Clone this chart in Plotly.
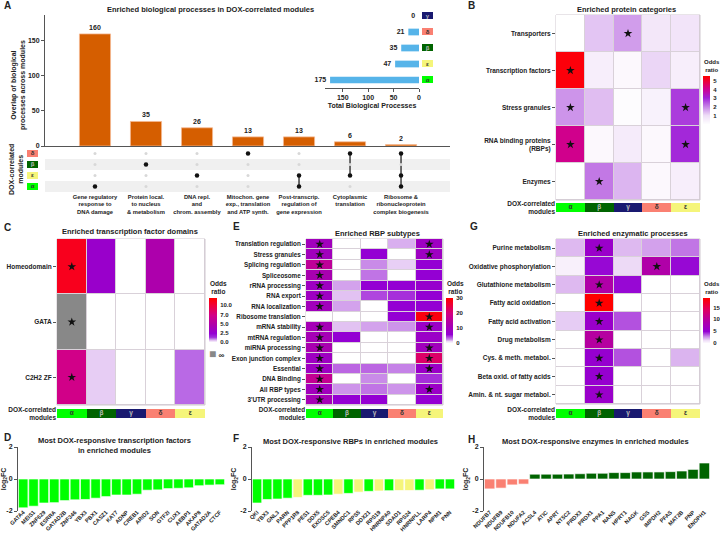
import numpy as np
import plotly.graph_objects as go

W, H = 720, 540
FONT = "Liberation Sans"
DARK = "#222222"
AXC = "#555555"


def X(px):
    return px / W


def Y(py):
    return 1 - py / H


def dx(a, b):
    return [X(a), X(b)]


def dy(top, bottom):
    return [Y(bottom), Y(top)]


def F(size, color=DARK):
    return dict(family=FONT, size=size, color=color, weight="bold")


# ------------------------------------------------------------------ data
modules = ["α", "β", "γ", "δ", "ε"]
module_colors = ["#00FF00", "#006400", "#191970", "#FA8072", "#F5F57A"]
module_text_colors = ["#333333", "#BBBBBB", "#BBBBBB", "#333333", "#333333"]

# Panel A
bp_labels = [
    "Gene regulatory<br>response to<br>DNA damage",
    "Protein local.<br>to nucleus<br>& metabolism",
    "DNA repl.<br>and<br>chrom. assembly",
    "Mitochon. gene<br>exp., translation<br>and ATP synth.",
    "Post-transcrip.<br>regulation of<br>gene expression",
    "Cytoplasmic<br>translation",
    "Ribosome &<br>ribonucleoprotein<br>complex biogenesis",
]
bp_counts = [160, 35, 26, 13, 13, 6, 2]
bp_members = [["α"], ["β"], ["ε"], ["δ"], ["ε", "α"], ["δ", "ε"], ["δ", "ε", "α"]]
matrix_rows = ["δ", "β", "ε", "α"]
total_rows = ["γ", "δ", "β", "ε", "α"]
total_bp = [0, 21, 35, 47, 175]

# Panel B
prot_categories = ["Transporters", "Transcription factors", "Stress granules",
                   "RNA binding proteins<br>(RBPs)", "Enzymes"]
prot_or = [
    [0.0, 1.3, 1.8, 0.7, 0.8],
    [5.5, 0.5, 0.2, 1.1, 0.5],
    [1.9, 1.4, 0.1, 0.4, 2.8],
    [4.2, 0.2, 0.6, 0.2, 3.0],
    [0.0, 2.2, 1.5, 0.2, 0.5],
]
prot_sig = [
    [0, 0, 1, 0, 0],
    [1, 0, 0, 0, 0],
    [1, 0, 0, 0, 1],
    [1, 0, 0, 0, 1],
    [0, 1, 0, 0, 0],
]
prot_ticks = [1, 2, 3, 4, 5]
prot_max = 5.6

# Panel C
tf_domains = ["Homeodomain", "GATA", "C2H2 ZF"]
tf_or = [
    [12.0, 3.0, 0.0, 4.8, 0.0],
    [np.inf, 0.0, 0.0, 0.0, 0.0],
    [7.0, 0.5, 0.0, 0.0, 1.1],
]
tf_sig = [
    [1, 0, 0, 0, 0],
    [1, 0, 0, 0, 0],
    [1, 0, 0, 0, 0],
]
tf_scale_ticks = [0.0, 2.5, 5.0, 7.0, 10.0, 15.0]
tf_tick_labels = ["0.0", "2.5", "5.0", "7.0", "10.0"]
tf_max_pos = 4.8

# Panel E
rbp_types = ["Translation regulation", "Stress granules", "Splicing regulation",
             "Spliceosome", "rRNA processing", "RNA export", "RNA localization",
             "Ribosome translation", "mRNA stability", "mtRNA regulation",
             "miRNA processing", "Exon junction complex", "Essential",
             "DNA Binding", "All RBP types", "3'UTR processing"]
rbp_or = [
    [10, 0, 0, 2.2, 9],
    [10, 0, 6, 0, 9],
    [16, 0, 3, 1.5, 6],
    [12, 0, 3.5, 0, 6],
    [9, 2.5, 6, 6, 7],
    [9, 1.8, 4.5, 5, 6],
    [10, 2.5, 0, 6, 6],
    [0, 0, 0, 6, 29],
    [11, 1.8, 2.5, 2.8, 8],
    [11, 6, 0, 0, 8],
    [12, 0, 0, 0, 10],
    [9, 0, 0, 0, 22],
    [9, 3.8, 3.8, 3.2, 8],
    [17, 0, 3, 0, 5],
    [10, 2.8, 3.5, 2.8, 8],
    [11, 6, 6, 0, 6],
]
rbp_sig = [
    [1, 0, 0, 0, 1],
    [1, 0, 0, 0, 1],
    [1, 0, 0, 0, 0],
    [1, 0, 0, 0, 0],
    [1, 0, 0, 0, 0],
    [1, 0, 0, 0, 0],
    [1, 0, 0, 0, 0],
    [0, 0, 0, 0, 1],
    [1, 0, 0, 0, 1],
    [1, 0, 0, 0, 0],
    [1, 0, 0, 0, 1],
    [1, 0, 0, 0, 1],
    [1, 0, 0, 0, 1],
    [1, 0, 0, 0, 0],
    [1, 0, 0, 0, 1],
    [1, 0, 0, 0, 0],
]
rbp_ticks = [0, 10, 20, 30]
rbp_max = 30

# Panel G
enz_processes = ["Purine metabolism", "Oxidative phosphorylation",
                 "Glutathione metabolism", "Fatty acid oxidation",
                 "Fatty acid activation", "Drug metabolism",
                 "Cys. & meth. metabol.", "Beta oxid. of fatty acids",
                 "Amin. & nt. sugar metabol."]
enz_or = [
    [1.9, 6, 1.9, 2.4, 3.2],
    [0.5, 5, 1.2, 9.5, 5],
    [1.9, 9.5, 5, 0, 0],
    [0, 19, 0, 0, 0],
    [1.5, 6, 3.8, 0, 0],
    [0, 10, 0, 0, 0],
    [0, 5.5, 3.8, 0, 2.0],
    [0, 5.5, 0, 0, 0],
    [0, 6, 0, 0, 0],
]
enz_sig = [
    [0, 1, 0, 0, 0],
    [0, 0, 0, 1, 0],
    [0, 1, 0, 0, 0],
    [0, 1, 0, 0, 0],
    [0, 1, 0, 0, 0],
    [0, 1, 0, 0, 0],
    [0, 1, 0, 0, 0],
    [0, 1, 0, 0, 0],
    [0, 1, 0, 0, 0],
]
enz_ticks = [0, 5, 10, 15]
enz_max = 19

# Panels D, F, H
tf_genes = ["GATA4", "MEIS1", "ZNF629", "ESRRA", "GATAD2B", "ZNF346", "YBX3", "PBX1",
            "CASZ1", "KAT7", "ADNP", "CREB1", "ARID2", "SON", "GTF2I", "CUX1",
            "AEBP1", "AKAP8", "GATAD2A", "CTCF"]
tf_fc = [-1.8, -1.7, -1.5, -1.48, -1.35, -1.3, -1.28, -1.2, -1.1, -1.0, -1.0, -0.95,
         -0.7, -0.68, -0.6, -0.58, -0.55, -0.42, -0.38, -0.36]
tf_module = ["α"] * 20

rbp_genes = ["QKI", "YBX3", "GNL3", "PARN", "PPP1R8", "PES1", "DDX5", "EXOSC5", "CPEB4",
             "SMNDC1", "RPS5", "DDX21", "RPS19", "HNRNPA0", "SDAD1", "RPS24",
             "HNRNPLL", "LARP4", "NPM1", "PNN"]
rbp_fc = [-1.5, -1.28, -1.25, -1.2, -1.15, -1.02, -1.02, -1.0, -0.95, -0.9, -0.82,
          -0.77, -0.75, -0.73, -0.72, -0.72, -0.7, -0.67, -0.62, -0.62]
rbp_module = ["α", "α", "α", "α", "ε", "α", "α", "α", "ε", "α", "ε", "α", "ε", "α",
              "ε", "ε", "α", "ε", "α", "α"]

enz_genes = ["NDUFB7", "NDUFB9", "NDUFB10", "NDUFA2", "ACSL4", "ATIC", "APRT", "NT5C2",
             "PRDX3", "PRDX1", "PPA1", "NANS", "HPRT1", "NAGK", "GSS", "IMPDH2", "PFAS",
             "MAT2B", "PNP", "ENOPH1"]
enz_fc = [-0.62, -0.57, -0.37, -0.32, 0.3, 0.3, 0.3, 0.31, 0.33, 0.36, 0.36, 0.4, 0.4,
          0.44, 0.44, 0.44, 0.46, 0.5, 0.6, 1.0]
enz_module = ["δ"] * 4 + ["β"] * 16

# ------------------------------------------------------------------ figure
module_scale = [[i / 4, c] for i, c in enumerate(module_colors)]
mod_idx = {m: i for i, m in enumerate(modules)}
mod_col = dict(zip(modules, module_colors))

fig = go.Figure()
layout = dict(
    template="none",
    width=W, height=H, autosize=False,
    margin=dict(l=0, r=0, t=0, b=0, pad=0, autoexpand=False),
    paper_bgcolor="white", plot_bgcolor="rgba(0,0,0,0)",
    showlegend=False,
    font=F(7),
    shapes=[], annotations=[],
)


def axis(domain, **kw):
    d = dict(domain=domain, showgrid=False, zeroline=False, showline=False,
             ticks="", showticklabels=False, fixedrange=True, automargin=False)
    d.update(kw)
    return d


def annot(x, y, text, size=7, xanchor="center", yanchor="middle", angle=0):
    layout["annotations"].append(dict(
        x=X(x), y=Y(y), xref="paper", yref="paper", text=text, showarrow=False,
        xanchor=xanchor, yanchor=yanchor, textangle=angle, font=F(size)))


# ---------------- Panel A: bars
layout["xaxis"] = axis(dx(45, 450), anchor="y", range=[-0.98, 6.96],
                       showline=True, linecolor=AXC, linewidth=1)
layout["yaxis"] = axis(dy(15, 146), anchor="x", range=[0, 187], showline=True,
                       linecolor=AXC, linewidth=1, ticks="outside", ticklen=3,
                       tickcolor=AXC, showticklabels=True, tickvals=[0, 50, 100, 150],
                       tickfont=F(7))
fig.add_trace(go.Bar(
    x=list(range(len(bp_counts))), y=bp_counts, xaxis="x", yaxis="y", width=0.61,
    marker=dict(color="#D55E00", line=dict(color="#F5B890", width=0.8)),
    text=bp_counts, textposition="outside", textfont=F(7), cliponaxis=False,
    hoverinfo="skip"))

# matrix
layout["xaxis2"] = axis(dx(45, 450), anchor="y2", range=[-0.98, 6.96],
                        showticklabels=True, tickvals=list(range(len(bp_labels))),
                        ticktext=bp_labels, tickfont=F(5.8), tickangle=0)
layout["yaxis2"] = axis(dy(148, 192), anchor="x2", range=[3.5, -0.5])
for ri, m in enumerate(matrix_rows):
    if ri % 2 == 1:
        layout["shapes"].append(dict(
            type="rect", xref="x2 domain", yref="y2", x0=0, x1=1,
            y0=ri - 0.5, y1=ri + 0.5, fillcolor="#F0F0F0", line=dict(width=0),
            layer="below"))
gx, gy, bx, by = [], [], [], []
for ci, mem in enumerate(bp_members):
    rows_on = [matrix_rows.index(m) for m in mem]
    for ri in range(len(matrix_rows)):
        if ri in rows_on:
            bx.append(ci)
            by.append(ri)
        else:
            gx.append(ci)
            gy.append(ri)
    if len(rows_on) > 1:
        fig.add_trace(go.Scatter(
            x=[ci, ci], y=[min(rows_on), max(rows_on)], xaxis="x2", yaxis="y2",
            mode="lines", line=dict(color="#111111", width=1.2), hoverinfo="skip"))
fig.add_trace(go.Scatter(x=gx, y=gy, xaxis="x2", yaxis="y2", mode="markers",
                         marker=dict(color="#D8D8D8", size=3), hoverinfo="skip"))
fig.add_trace(go.Scatter(x=bx, y=by, xaxis="x2", yaxis="y2", mode="markers",
                         marker=dict(color="#111111", size=4.5), hoverinfo="skip"))

# matrix row module boxes
layout["xaxis3"] = axis(dx(27, 38), anchor="y2", range=[-0.5, 0.5])
fig.add_trace(go.Heatmap(
    z=[[mod_idx[m]] for m in matrix_rows], x=[0], y=list(range(len(matrix_rows))),
    xaxis="x3", yaxis="y2", colorscale=module_scale, zmin=0, zmax=4,
    showscale=False, ygap=4, hoverinfo="skip"))
fig.add_trace(go.Scatter(
    x=[0] * len(matrix_rows), y=list(range(len(matrix_rows))), xaxis="x3", yaxis="y2",
    mode="text", text=matrix_rows,
    textfont=dict(family=FONT, size=6, weight="bold",
                  color=[module_text_colors[mod_idx[m]] for m in matrix_rows]),
    hoverinfo="skip"))

# inset total bars
layout["xaxis4"] = axis(dx(325, 419), anchor="y4", range=[185, 0], showline=True,
                        linecolor=AXC, linewidth=1, ticks="outside", ticklen=3,
                        tickcolor=AXC, showticklabels=True, tickvals=[0, 50, 100, 150],
                        tickfont=F(7),
                        title=dict(text="Total Biological Processes", font=F(7),
                                   standoff=2))
layout["yaxis4"] = axis(dy(8, 88), anchor="x4", range=[4.5, -0.5])
fig.add_trace(go.Bar(
    x=total_bp, y=list(range(len(total_rows))), orientation="h", xaxis="x4",
    yaxis="y4", width=0.42, marker=dict(color="#56B4E9", line=dict(width=0)),
    hoverinfo="skip"))
fig.add_trace(go.Scatter(
    x=total_bp, y=list(range(len(total_rows))), xaxis="x4", yaxis="y4",
    mode="text", text=[f"{v}  " for v in total_bp], textposition="middle left",
    textfont=F(7), cliponaxis=False, hoverinfo="skip"))
layout["xaxis5"] = axis(dx(422, 433), anchor="y4", range=[-0.5, 0.5])
fig.add_trace(go.Heatmap(
    z=[[mod_idx[m]] for m in total_rows], x=[0], y=list(range(len(total_rows))),
    xaxis="x5", yaxis="y4", colorscale=module_scale, zmin=0, zmax=4,
    showscale=False, ygap=9, hoverinfo="skip"))
fig.add_trace(go.Scatter(
    x=[0] * len(total_rows), y=list(range(len(total_rows))), xaxis="x5", yaxis="y4",
    mode="text", text=total_rows,
    textfont=dict(family=FONT, size=6, weight="bold",
                  color=[module_text_colors[mod_idx[m]] for m in total_rows]),
    hoverinfo="skip"))

annot(210, 9, "Enriched biological processes in DOX-correlated modules", 7.5)
annot(18, 85, "Overlap of biological<br>processes across modules", 7, angle=-90)
annot(16, 170, "DOX-correlated<br>modules", 7, angle=-90)


# ---------------- heatmap panels
def heat_panel(nh, ns, xdom, ytop, ybot, stop, sbot, rows, z, sig, cscale, zmin, zmax,
               label_size=6.5):
    xr, yr, ysr = f"x{nh}", f"y{nh}", f"y{ns}"
    layout[f"xaxis{nh}"] = axis(dx(*xdom), anchor=yr, range=[-0.5, 4.5])
    layout[f"yaxis{nh}"] = axis(
        dy(ytop, ybot), anchor=xr, range=[len(rows) - 0.5, -0.5],
        showticklabels=True, ticks="outside", ticklen=3, tickcolor=AXC,
        tickvals=list(range(len(rows))), ticktext=rows, tickfont=F(label_size))
    layout[f"yaxis{ns}"] = axis(
        dy(stop, sbot), anchor=xr, range=[-0.5, 0.5], showticklabels=True,
        tickvals=[0], ticktext=["DOX-correlated<br>modules"], tickfont=F(label_size))
    layout["shapes"].append(dict(
        type="rect", xref=f"{xr} domain", yref=f"{yr} domain", x0=0, x1=1, y0=0, y1=1,
        fillcolor="#D9D1D9", line=dict(color="#D0C8D0", width=1), layer="below"))
    fig.add_trace(go.Heatmap(
        z=z, x=list(range(5)), y=list(range(len(rows))), xaxis=xr, yaxis=yr,
        colorscale=cscale, zmin=zmin, zmax=zmax, xgap=1, ygap=1, showscale=False,
        hoverinfo="skip"))
    fig.add_trace(go.Heatmap(
        z=[list(range(5))], x=list(range(5)), y=[0], xaxis=xr, yaxis=ysr,
        colorscale=module_scale, zmin=0, zmax=4, showscale=False, hoverinfo="skip"))
    fig.add_trace(go.Scatter(
        x=list(range(5)), y=[0] * 5, xaxis=xr, yaxis=ysr, mode="text", text=modules,
        textfont=dict(family=FONT, size=6.5, weight="bold", color=module_text_colors),
        hoverinfo="skip"))


def color_key(n, x_left, thick, bar_top, bar_bot, cscale, zmin, zmax, key_vals,
              tickvals, ticktext=None, title_size=6.5):
    """Colour key drawn as a smoothed one-column heatmap with a right-hand axis."""
    layout[f"xaxis{n}"] = axis(dx(x_left, x_left + thick), anchor=f"y{n}",
                               range=[-0.5, 0.5])
    ya = axis(dy(bar_top, bar_bot), anchor=f"x{n}", side="right", range=[zmin, zmax],
              showticklabels=True, tickvals=tickvals, tickfont=F(6), ticks="outside",
              ticklen=1, tickcolor="rgba(0,0,0,0)")
    if ticktext is not None:
        ya["ticktext"] = ticktext
    layout[f"yaxis{n}"] = ya
    fig.add_trace(go.Heatmap(
        z=[[v] for v in key_vals], x=[0], y=key_vals, xaxis=f"x{n}", yaxis=f"y{n}",
        colorscale=cscale, zmin=zmin, zmax=zmax, zsmooth="best", showscale=False,
        hoverinfo="skip"))
    annot(x_left - 1, bar_top - 1, "Odds<br>ratio", title_size, xanchor="left",
          yanchor="bottom")


def add_stars(xr, yr, sig):
    sx = [c for r, row in enumerate(sig) for c, s in enumerate(row) if s]
    sy = [r for r, row in enumerate(sig) for c, s in enumerate(row) if s]
    fig.add_trace(go.Scatter(
        x=sx, y=sy, xaxis=xr, yaxis=yr, mode="markers",
        marker=dict(symbol="star", size=6.5, color="#111111", line=dict(width=0)),
        hoverinfo="skip"))


# B
B_scale = [[0, "#FFFFFF"], [0.18, "#EEDDF7"], [0.36, "#C98BE8"], [0.55, "#A020D8"],
           [0.75, "#D0008C"], [1, "#FF0000"]]
heat_panel(6, 7, (556, 700), 15, 200, 203, 212, prot_categories, prot_or, prot_sig,
           B_scale, 0, prot_max)
add_stars("x6", "y6", prot_sig)
color_key(20, 703, 7, 76, 124, B_scale, 0, prot_max, [0] + prot_ticks + [prot_max],
          prot_ticks, title_size=6)
annot(626, 9, "Enriched protein categories", 7.5)

# C with non-linear colour axis
tf_arr = np.array(tf_or, dtype=float)
tf_inf = np.isinf(tf_arr)
tf_pos = list(range(len(tf_scale_ticks)))
tf_t = np.interp(np.where(tf_inf, 0, tf_arr), tf_scale_ticks, tf_pos)
tf_t = np.where(tf_inf, np.nan, tf_t)
C_scale = [[0, "#FFFFFF"], [0.04, "#E8D0F4"], [0.12, "#A030DC"], [0.21, "#9400D3"],
           [0.42, "#B000A8"], [0.62, "#D0008A"], [0.83, "#F0003C"], [1, "#FF0000"]]
heat_panel(8, 9, (57, 205), 239, 405, 409, 418, tf_domains, tf_t.tolist(), tf_sig,
           C_scale, 0, tf_max_pos)
inf_z = np.where(tf_inf, 1.0, np.nan)
fig.add_trace(go.Heatmap(
    z=inf_z.tolist(), x=list(range(5)), y=list(range(len(tf_domains))), xaxis="x8",
    yaxis="y8", colorscale=[[0, "#888888"], [1, "#888888"]], showscale=False,
    xgap=1, ygap=1, hoverinfo="skip"))
add_stars("x8", "y8", tf_sig)
color_key(21, 209, 8, 298, 342, C_scale, 0, tf_max_pos,
          tf_pos[:len(tf_tick_labels)] + [tf_max_pos], tf_pos[:len(tf_tick_labels)],
          tf_tick_labels)
annot(130, 232, "Enriched transcription factor domains", 7.5)
layout["annotations"].append(dict(
    x=X(207), y=Y(354), xref="paper", yref="paper",
    text='<span style="color:#888888;font-size:12px">■</span> ∞', showarrow=False,
    xanchor="left", yanchor="middle", font=F(8)))

# E
E_scale = [[0, "#FFFFFF"], [0.04, "#EEDDF7"], [0.1, "#C98BE8"], [0.2, "#9400D3"],
           [0.4, "#A800B0"], [0.67, "#D4007F"], [1, "#FF0000"]]
heat_panel(10, 11, (306, 443), 239, 405, 409, 418, rbp_types, rbp_or, rbp_sig,
           E_scale, 0, rbp_max, label_size=6.3)
add_stars("x10", "y10", rbp_sig)
color_key(22, 446, 7, 298, 343, E_scale, 0, rbp_max,
          [0, 1.2, 3, 6, 12, 20, 30], rbp_ticks)
annot(377, 233, "Enriched RBP subtypes", 7.5)

# G
G_scale = [[0, "#FFFFFF"], [0.06, "#EEDDF7"], [0.15, "#C98BE8"], [0.27, "#9400D3"],
           [0.5, "#B000A8"], [0.75, "#E00060"], [1, "#FF0000"]]
heat_panel(12, 13, (556, 700), 239, 404, 409, 418, enz_processes, enz_or, enz_sig,
           G_scale, 0, enz_max)
add_stars("x12", "y12", enz_sig)
color_key(23, 703, 7, 298, 343, G_scale, 0, enz_max,
          [0, 1.1, 2.9, 5.1, 9.5, 14.3, 19], enz_ticks, title_size=6)
annot(633, 233, "Enriched enzymatic processes", 7.5)


# ---------------- log2FC bar panels
def fc_panel(n, xdom, genes, fc, mods):
    layout[f"xaxis{n}"] = axis(dx(*xdom), anchor=f"y{n}", range=[-0.5, len(genes) - 0.5],
                               showticklabels=True, tickvals=list(range(len(genes))),
                               ticktext=genes, tickangle=-45, tickfont=F(5.6),
                               ticklabelstandoff=-4)
    layout[f"yaxis{n}"] = axis(dy(447, 511), anchor=f"x{n}", range=[-2, 2],
                               showline=True, linecolor=AXC, linewidth=1,
                               ticks="outside", ticklen=3, tickcolor=AXC,
                               showticklabels=True, tickvals=[-2, 0, 2],
                               ticktext=["-2", "0", "2"], tickfont=F(7),
                               title=dict(text="log<sub>2</sub>FC", font=F(7),
                                          standoff=2))
    fig.add_trace(go.Bar(
        x=list(range(len(genes))), y=fc, xaxis=f"x{n}", yaxis=f"y{n}", width=0.92,
        marker=dict(color=[mod_col[m] for m in mods],
                    line=dict(color="rgba(255,255,255,0.8)", width=0.8)),
        hoverinfo="skip"))


fc_panel(14, (18, 225), tf_genes, tf_fc, tf_module)
fc_panel(15, (252, 455), rbp_genes, rbp_fc, rbp_module)
fc_panel(16, (484, 710), enz_genes, enz_fc, enz_module)
annot(115, 445, "Most DOX-responsive transcription factors<br>in enriched modules", 7.5)
annot(350, 441, "Most DOX-responsive RBPs in enriched modules", 7.5)
annot(595, 441, "Most DOX-responsive enzymes in enriched modules", 7.5)

# panel letters
for letter, (px, py) in {"A": (2, 5), "B": (466, 6), "C": (2, 227), "D": (2, 437),
                         "E": (231, 226), "F": (231, 438), "G": (468, 226),
                         "H": (466, 439)}.items():
    annot(px, py, letter, 10, xanchor="left")

fig.update_layout(**layout)
# remove the browser's default 8px page margin so the 720x540 figure fills the window
fig.write_html("out.html",
               config={"displayModeBar": False, "staticPlot": True},
               post_script="document.body.style.margin='0';"
                           "document.body.style.overflow='hidden';")
